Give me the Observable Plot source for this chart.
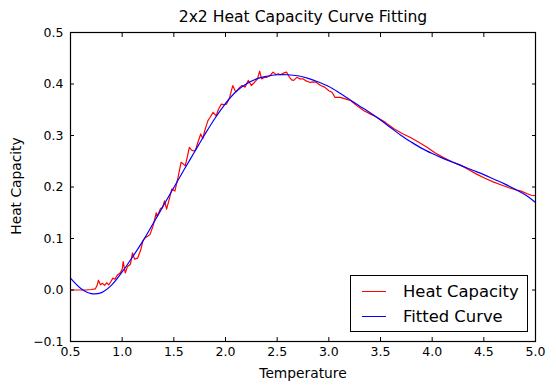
<!DOCTYPE html>
<html>
<head>
<meta charset="utf-8">
<script src="https://cdn.jsdelivr.net/npm/d3@7"></script>
<script src="https://cdn.jsdelivr.net/npm/@observablehq/plot@0.6"></script>
<style>
  html, body { margin: 0; padding: 0; background: #fff; }
  #wrap { position: relative; width: 556px; height: 391px; font-family: "DejaVu Sans", sans-serif; color: #000; }
  #title { position: absolute; left: 71px; width: 464px; top: 7px; text-align: center; font-size: 15.6px; line-height: 20px; }
  #xlabel { position: absolute; left: 71px; width: 464px; top: 364px; text-align: center; font-size: 13.8px; line-height: 18px; }
  #ylabel { position: absolute; left: 16px; top: 186px; transform: translate(-50%, -50%) rotate(-90deg); font-size: 13.8px; line-height: 18px; white-space: nowrap; }
  #legend { position: absolute; left: 350px; top: 275px; width: 178px; height: 57px; border: 1px solid #000; background: #fff; box-sizing: border-box; }
  .row { position: absolute; left: 0; height: 22px; display: flex; align-items: center; font-size: 16.4px; white-space: nowrap; }
  .sw { width: 24px; height: 0; border-top: 1px solid; margin-left: 11px; margin-right: 17px; }
</style>
</head>
<body>
<div id="wrap">
  <div id="chart"></div>
  <div id="title">2x2 Heat Capacity Curve Fitting</div>
  <div id="xlabel">Temperature</div>
  <div id="ylabel">Heat Capacity</div>
  <div id="legend"></div>
</div>
<script>
// Measured heat capacity (noisy, red)
const heatT = [0.50,0.55,0.60,0.65,0.70,0.74,0.76,0.77,0.79,0.81,0.83,0.85,0.87,0.89,0.91,0.93,0.95,0.98,1.00,1.01,1.03,1.05,1.08,1.10,1.12,1.15,1.18,1.20,1.22,1.25,1.27,1.30,1.33,1.34,1.37,1.39,1.41,1.43,1.46,1.48,1.51,1.54,1.57,1.59,1.61,1.63,1.65,1.67,1.69,1.71,1.73,1.76,1.78,1.80,1.83,1.85,1.88,1.91,1.93,1.96,1.98,2.01,2.04,2.07,2.10,2.13,2.16,2.19,2.22,2.25,2.28,2.31,2.33,2.35,2.38,2.40,2.43,2.46,2.49,2.51,2.53,2.56,2.59,2.62,2.64,2.66,2.69,2.72,2.75,2.78,2.82,2.85,2.88,2.92,2.96,3.00,3.03,3.06,3.11,3.16,3.21,3.27,3.34,3.40,3.47,3.55,3.63,3.71,3.79,3.87,3.95,4.03,4.11,4.19,4.27,4.35,4.43,4.51,4.59,4.67,4.75,4.82,4.86,4.92,4.96,5.00];
const heatC = [0.000,0.000,0.000,0.000,0.001,0.002,0.010,0.019,0.010,0.013,0.009,0.014,0.010,0.016,0.023,0.021,0.028,0.033,0.040,0.055,0.033,0.045,0.050,0.072,0.060,0.062,0.078,0.095,0.101,0.105,0.108,0.125,0.150,0.143,0.158,0.160,0.173,0.157,0.180,0.196,0.192,0.218,0.248,0.245,0.241,0.258,0.277,0.272,0.270,0.272,0.285,0.303,0.294,0.310,0.329,0.335,0.345,0.338,0.350,0.361,0.360,0.361,0.374,0.397,0.384,0.392,0.397,0.394,0.407,0.397,0.403,0.410,0.425,0.410,0.413,0.413,0.416,0.423,0.418,0.420,0.418,0.421,0.423,0.413,0.408,0.407,0.413,0.410,0.410,0.406,0.403,0.404,0.403,0.397,0.394,0.387,0.384,0.374,0.374,0.371,0.368,0.358,0.348,0.342,0.335,0.325,0.313,0.304,0.296,0.287,0.277,0.266,0.257,0.249,0.243,0.234,0.225,0.217,0.210,0.204,0.198,0.194,0.192,0.187,0.184,0.183];
// Fitted curve (blue)
const fitT = [0.5,0.6,0.7,0.8,0.9,1.0,1.1,1.2,1.3,1.4,1.5,1.6,1.7,1.8,1.9,2.0,2.1,2.2,2.3,2.4,2.5,2.6,2.7,2.8,2.9,3.0,3.1,3.2,3.3,3.4,3.5,3.6,3.7,3.8,3.9,4.0,4.1,4.2,4.3,4.4,4.5,4.6,4.7,4.8,4.9,5.0];
const fitC = [0.023,0.003,-0.007,-0.005,0.010,0.035,0.064,0.095,0.129,0.164,0.199,0.234,0.268,0.302,0.334,0.362,0.385,0.400,0.410,0.415,0.418,0.418,0.416,0.411,0.404,0.395,0.383,0.370,0.357,0.344,0.330,0.315,0.300,0.287,0.275,0.265,0.256,0.248,0.240,0.232,0.224,0.215,0.206,0.196,0.185,0.170];
const xTicks = [0.5,1.0,1.5,2.0,2.5,3.0,3.5,4.0,4.5,5.0];
const yTicks = [-0.1,0.0,0.1,0.2,0.3,0.4,0.5];
const seriesNames = ["Heat Capacity", "Fitted Curve"];
const seriesColors = ["#ff0000", "#0000ff"];

const heat = heatT.map((t, i) => ({t, c: heatC[i]}));
const fit = fitT.map((t, i) => ({t, c: fitC[i]}));
const fmt = d => d.toFixed(1).replace("-", "\u2212");

const chart = Plot.plot({
  width: 556,
  height: 391,
  marginLeft: 70,
  marginRight: 21,
  marginTop: 32,
  marginBottom: 50,
  style: {fontFamily: "DejaVu Sans, sans-serif", fontSize: "12.5px", color: "#000", background: "#fff"},
  x: {domain: [0.5, 5.0]},
  y: {domain: [-0.1, 0.5]},
  marks: [
    Plot.line(heat, {x: "t", y: "c", stroke: seriesColors[0], strokeWidth: 1.2}),
    Plot.line(fit, {x: "t", y: "c", stroke: seriesColors[1], strokeWidth: 1.2, curve: "catmull-rom"}),
    Plot.axisX({anchor: "bottom", ticks: xTicks, tickSize: -4, tickPadding: 10, tickFormat: fmt, label: null, fontSize: 12.5}),
    Plot.axisX({anchor: "top", ticks: xTicks, tickSize: -4, tickFormat: () => "", label: null}),
    Plot.axisY({anchor: "left", ticks: yTicks, tickSize: -4, tickPadding: 11, tickFormat: fmt, label: null, fontSize: 12.5}),
    Plot.axisY({anchor: "right", ticks: yTicks, tickSize: -4, tickFormat: () => "", label: null}),
    Plot.frame({stroke: "#000", strokeWidth: 1.2})
  ]
});
document.getElementById("chart").appendChild(chart);

const legend = document.getElementById("legend");
seriesNames.forEach((name, i) => {
  const row = document.createElement("div");
  row.className = "row";
  row.style.top = (4 + i * 25) + "px";
  const sw = document.createElement("div");
  sw.className = "sw";
  sw.style.borderTopColor = seriesColors[i];
  const label = document.createElement("span");
  label.textContent = name;
  row.appendChild(sw);
  row.appendChild(label);
  legend.appendChild(row);
});
</script>
</body>
</html>
